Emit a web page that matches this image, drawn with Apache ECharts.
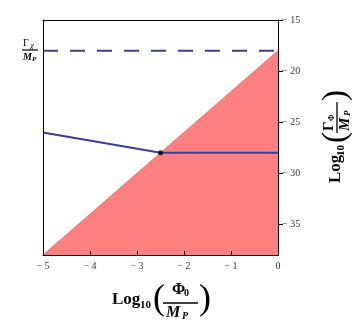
<!DOCTYPE html>
<html>
<head>
<meta charset="utf-8">
<script src="https://cdn.jsdelivr.net/npm/echarts@6/dist/echarts.min.js"></script>
<style>
  html, body { margin: 0; padding: 0; background: #fff; }
  #chart { width: 360px; height: 330px; }
</style>
</head>
<body>
<div id="chart"></div>
<script>
// data
const xTicks = [-5, -4, -3, -2, -1, 0];
const yTicks = [-35, -30, -25, -20, -15];

// red region below the diagonal
const diagX = [-5, 0];
const diagY = [-38, -18];

// dashed line, Gamma_chi / M_P
const gammaChiX = [-5, 0];
const gammaChiY = [-18, -18];

// solid line, Gamma_Phi / M_P
const gammaPhiX = [-5, -2.5, 0];
const gammaPhiY = [-26, -28, -28];

// black dot where the solid line meets the diagonal
const crossX = [-2.5];
const crossY = [-28];

const serif = '"Liberation Serif", "DejaVu Serif", serif';
const lineBlue = "#3d3d96";

function pairs(xs, ys) {
  return xs.map(function (x, i) {
    return [x, ys[i]];
  });
}

function minusFmt(v) {
  return v < 0 ? "\u2212 " + Math.abs(v) : String(v);
}

function txt(x, y, text, size, weight, style, align) {
  return {
    type: "text",
    x: x,
    y: y,
    style: {
      text: text,
      fontFamily: serif,
      fontSize: size,
      fontWeight: weight || "normal",
      fontStyle: style || "normal",
      align: align || "left",
      verticalAlign: "middle",
      fill: "#000",
    },
  };
}

function bar(x1, x2, y, w) {
  return {
    type: "line",
    shape: { x1: x1, y1: y, x2: x2, y2: y },
    style: { stroke: "#000", lineWidth: w || 1.3 },
  };
}

const chart = echarts.init(document.getElementById("chart"));

const option = {
  animation: false,
  backgroundColor: "#fff",
  grid: { left: 43, right: 82, top: 20, bottom: 75 },
  xAxis: [
    {
      type: "value",
      min: -5,
      max: 0,
      interval: 1,
      z: 10,
      splitLine: { show: false },
      axisLine: { show: true, onZero: false, lineStyle: { color: "#000", width: 1 } },
      axisTick: { show: true, inside: true, length: 4, lineStyle: { color: "#000" } },
      axisLabel: {
        margin: 6,
        fontFamily: serif,
        fontSize: 10,
        color: "#333",
        formatter: minusFmt,
      },
    },
    {
      // top frame
      type: "value",
      position: "top",
      min: -5,
      max: 0,
      z: 10,
      splitLine: { show: false },
      axisLine: { show: true, onZero: false, lineStyle: { color: "#000", width: 1 } },
      axisTick: { show: false },
      axisLabel: { show: false },
    },
  ],
  yAxis: [
    {
      type: "value",
      position: "right",
      min: -38,
      max: -15,
      z: 10,
      splitLine: { show: false },
      axisLine: { show: true, onZero: false, lineStyle: { color: "#000", width: 1 } },
      axisTick: {
        show: true,
        length: 5,
        customValues: yTicks,
        lineStyle: { color: "#000" },
      },
      axisLabel: {
        margin: 4,
        customValues: yTicks,
        fontFamily: serif,
        fontSize: 10,
        color: "#333",
        formatter: minusFmt,
      },
    },
    {
      // left frame
      type: "value",
      position: "left",
      min: -38,
      max: -15,
      z: 10,
      splitLine: { show: false },
      axisLine: { show: true, onZero: false, lineStyle: { color: "#000", width: 1 } },
      axisTick: { show: false },
      axisLabel: { show: false },
    },
  ],
  series: [
    {
      type: "line",
      data: pairs(diagX, diagY),
      symbol: "none",
      lineStyle: { color: "#d06a6a", width: 0.8 },
      areaStyle: { color: "#ff8080", opacity: 1, origin: "start" },
      z: 1,
    },
    {
      type: "line",
      data: pairs(gammaChiX, gammaChiY),
      symbol: "none",
      lineStyle: { color: lineBlue, width: 2, type: [15, 12] },
      z: 3,
    },
    {
      type: "line",
      data: pairs(gammaPhiX, gammaPhiY),
      symbol: "none",
      lineStyle: { color: lineBlue, width: 2 },
      z: 3,
    },
    {
      type: "scatter",
      data: pairs(crossX, crossY),
      symbol: "circle",
      symbolSize: 5,
      itemStyle: { color: "#000" },
      z: 4,
    },
  ],
  graphic: [
    {
      // x axis title: Log10(Phi0 / MP)
      type: "group",
      x: 112,
      y: 300,
      children: [
        txt(0, 0, "Log", 17, "bold"),
        txt(28, 5, "10", 11, "bold"),
        txt(41, 0, "(", 36, "normal"),
        txt(60, -10, "\u03a6", 16, "bold"),
        txt(72, -7, "0", 10, "bold"),
        bar(51, 86, 3),
        txt(54, 13, "M", 16, "bold", "italic"),
        txt(70, 16, "P", 10, "bold", "italic"),
        txt(87, 0, ")", 36, "normal"),
      ],
    },
    {
      // y axis title: Log10(GammaPhi / MP), rotated
      type: "group",
      x: 336,
      y: 183,
      rotation: Math.PI / 2,
      children: [
        txt(0, 0, "Log", 17, "bold"),
        txt(27, 5, "10", 11, "bold"),
        txt(40, 0, "(", 33, "normal"),
        txt(52, -7, "\u0393", 15, "bold"),
        txt(62, -4, "\u03a6", 8, "bold"),
        bar(50, 81, 1),
        txt(52, 9, "M", 15, "bold", "italic"),
        txt(67, 12, "P", 9, "bold", "italic"),
        txt(82, 0, ")", 33, "normal"),
      ],
    },
    {
      // label of the dashed line: Gamma_chi / M_P
      type: "group",
      x: 22,
      y: 50,
      children: [
        txt(1, -7, "\u0393", 10, "normal"),
        txt(8, -4, "\u03c7", 9, "normal", "italic"),
        bar(0, 16, 0, 1.2),
        txt(1, 7, "M", 10, "bold", "italic"),
        txt(10, 9, "P", 7, "bold", "italic"),
      ],
    },
  ],
};

chart.setOption(option);
</script>
</body>
</html>
